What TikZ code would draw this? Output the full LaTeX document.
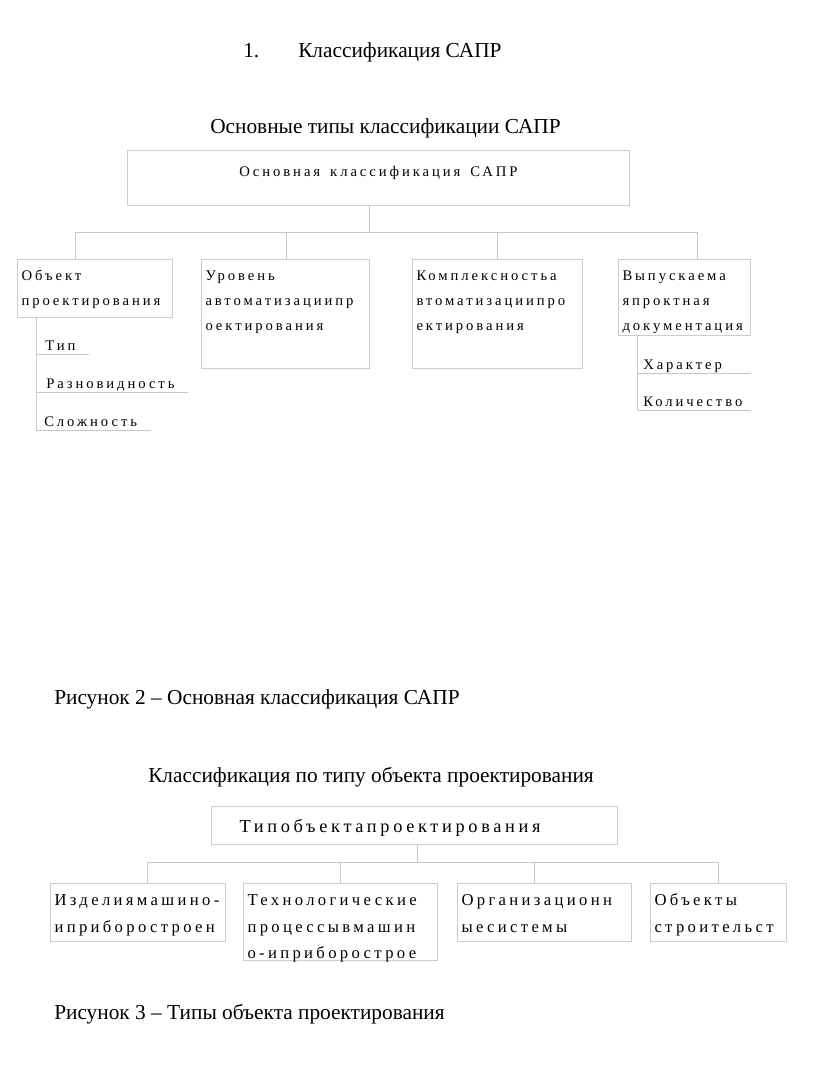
\documentclass[tikz,border=0pt]{standalone}
\usepackage{fontspec}
\setmainfont{Liberation Serif}
\newfontfamily\spaced[LetterSpace=20]{Liberation Serif}
\usetikzlibrary{positioning}

\begin{document}
\begin{tikzpicture}[x=0.75pt, y=-0.75pt,
        line/.style={draw=black!22, line width=0.75pt},
        cell/.style={draw=black!20, line width=0.75pt, anchor=north west, inner xsep=3pt, inner ysep=0pt, align=left},
        small/.style={font=\spaced\fontsize{11}{18.75}\selectfont},
        big/.style={font=\spaced\fontsize{12.5}{20}\selectfont},
        item/.style={anchor=base west, inner sep=0pt, text depth=3.5pt, font=\spaced\fontsize{11}{13}\selectfont},
        head/.style={anchor=base west, inner sep=0pt, font=\fontsize{16}{19}\selectfont}]
        \useasboundingbox (0,0) rectangle (816,1075);

        \node[head] (n1) at (243,57) {1.};
        \node[head] (t1) at (298,57) {Классификация САПР};
        \node[head] (t2) at (210,133) {Основные типы классификации САПР};

        % first diagram
        \node[cell, small, align=center, text width=370.5pt, text height=19.5pt, text depth=21.75pt] (K) at (127,150) {\spaceskip=7.5pt Основная классификация САПР};
        \node[cell, small, text width=110.25pt, text height=15.75pt, text depth=27.75pt] (O) at (17,259) {Объект\\проектирования};
        \node[cell, small, text width=120pt, text height=15.75pt, text depth=66pt] (U) at (201,259) {Уровень\\автоматизациипр\\оектирования};
        \node[cell, small, text width=121.5pt, text height=15.75pt, text depth=66pt] (C) at (412,259) {Комплексностьа\\втоматизациипро\\ектирования};
        \node[cell, small, text width=93pt, text height=15.75pt, text depth=41.25pt] (V) at (618,259) {Выпускаема\\япроктная\\документация};

        \coordinate (r1) at (369,232);
        \coordinate (b1) at (75,232);
        \coordinate (b2) at (286,232);
        \coordinate (b3) at (497,232);
        \coordinate (b4) at (697,232);
        \draw[line] (K.south -| r1) -- (r1);
        \draw[line] (b1) -- (b4);
        \draw[line] (b1) -- (b1 |- O.north);
        \draw[line] (b2) -- (b2 |- U.north);
        \draw[line] (b3) -- (b3 |- C.north);
        \draw[line] (b4) -- (b4 |- V.north);

        \node[item] (tip) at (45,350) {Тип};
        \node[item] (raz) at (46,388) {Разновидность};
        \node[item] (slo) at (44,426) {Сложность};
        \coordinate (s1) at (36,317);
        \draw[line] (s1) -- (s1 |- slo.south);
        \draw[line] (s1 |- tip.south) -- ([xshift=10pt]tip.south east);
        \draw[line] (s1 |- raz.south) -- ([xshift=10pt]raz.south east);
        \draw[line] (s1 |- slo.south) -- ([xshift=10pt]slo.south east);

        \node[item] (har) at (643,369) {Характер};
        \node[item] (kol) at (643,406) {Количество};
        \coordinate (s2) at (637,335);
        \draw[line] (s2) -- (s2 |- kol.south);
        \draw[line] (s2 |- har.south) -- (V.east |- har.south);
        \draw[line] (s2 |- kol.south) -- (V.east |- kol.south);

        \node[head] (c2) at (54,704) {Рисунок 2 – Основная классификация САПР};
        \node[head] (t3) at (148,782) {Классификация по типу объекта проектирования};

        % second diagram
        \node[cell, big, font=\spaced\fontsize{13.75}{20}\selectfont, text width=298.5pt, text height=19.5pt, text depth=9pt] (T) at (211,806) {\hspace*{18pt}Типобъектапроектирования};
        \node[cell, big, text width=125.25pt, text height=16.5pt, text depth=27pt] (A) at (50,883) {Изделиямашино-\\иприборостроен};
        \node[cell, big, text width=139.5pt, text height=16.5pt, text depth=41.25pt] (B) at (243,883) {Технологические\\процессывмашин\\о-иприборострое};
        \node[cell, big, text width=124.5pt, text height=16.5pt, text depth=27pt] (G) at (457,883) {Организационн\\ыесистемы};
        \node[cell, big, text width=96pt, text height=16.5pt, text depth=27pt] (D) at (650,883) {Объекты\\строительст};

        \coordinate (q) at (417,862);
        \coordinate (d1) at (147,862);
        \coordinate (d2) at (340,862);
        \coordinate (d3) at (534,862);
        \coordinate (d4) at (718,862);
        \draw[line] (T.south -| q) -- (q);
        \draw[line] (d1) -- (d4);
        \draw[line] (d1) -- (d1 |- A.north);
        \draw[line] (d2) -- (d2 |- B.north);
        \draw[line] (d3) -- (d3 |- G.north);
        \draw[line] (d4) -- (d4 |- D.north);

        \node[head] (c3) at (54,1019) {Рисунок 3 – Типы объекта проектирования};
    \end{tikzpicture}
\end{document}
